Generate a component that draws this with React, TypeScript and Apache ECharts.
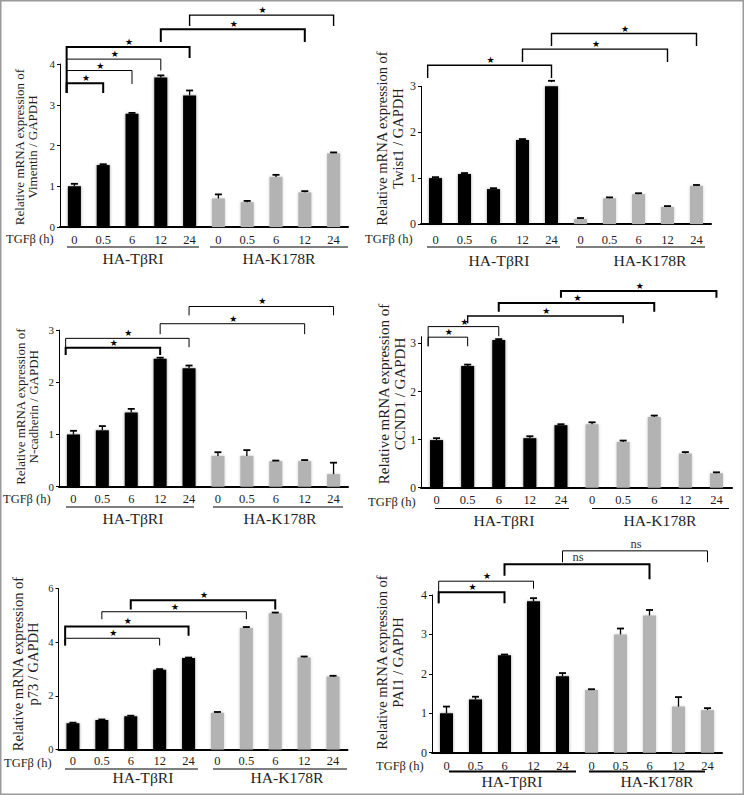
import React, { useEffect, useRef } from "react";
import * as echarts from "echarts";

// ---------- data ----------
const timeLabels = ["0", "0.5", "6", "12", "24", "0", "0.5", "6", "12", "24"];
const groupNames = ["HA-TβRI", "HA-K178R"];
const xTitle = "TGFβ (h)";
const yTitleTop = "Relative mRNA expression of";

// Vimentin
const vimTbri = [1.0, 1.52, 2.78, 3.67, 3.23];
const vimTbriSd = [0.06, 0.02, 0.02, 0.05, 0.12];
const vimK178r = [0.7, 0.61, 1.23, 0.85, 1.81];
const vimK178rSd = [0.1, 0.03, 0.05, 0.03, 0.02];
// Twist1
const twiTbri = [1.0, 1.09, 0.76, 1.83, 3.09];
const twiTbriSd = [0.02, 0.02, 0.02, 0.02, 0.03];
const twiK178r = [0.11, 0.56, 0.65, 0.37, 0.83];
const twiK178rSd = [0.02, 0.02, 0.02, 0.02, 0.02];
// N-cadherin
const ncaTbri = [1.0, 1.08, 1.42, 2.45, 2.27];
const ncaTbriSd = [0.07, 0.08, 0.07, 0.02, 0.05];
const ncaK178r = [0.59, 0.59, 0.49, 0.49, 0.24];
const ncaK178rSd = [0.07, 0.11, 0.01, 0.02, 0.22];
// CCND1
const ccnTbri = [0.99, 2.53, 3.07, 1.03, 1.3];
const ccnTbriSd = [0.04, 0.03, 0.02, 0.04, 0.02];
const ccnK178r = [1.32, 0.95, 1.47, 0.71, 0.3];
const ccnK178rSd = [0.04, 0.03, 0.03, 0.03, 0.02];
// p73
const p73Tbri = [0.98, 1.1, 1.24, 2.98, 3.41];
const p73TbriSd = [0.02, 0.02, 0.02, 0.02, 0.02];
const p73K178r = [1.37, 4.53, 5.08, 3.43, 2.72];
const p73K178rSd = [0.03, 0.04, 0.03, 0.04, 0.03];
// PAI1
const paiTbri = [1.0, 1.35, 2.47, 3.84, 1.94];
const paiTbriSd = [0.17, 0.07, 0.02, 0.08, 0.08];
const paiK178r = [1.59, 3.0, 3.48, 1.17, 1.08];
const paiK178rSd = [0.02, 0.15, 0.14, 0.24, 0.05];

// significance brackets: [fromIdx, toIdx, topLevel, leftFootLevel, rightFootLevel]
const vimBrackets = [
  [0, 1, 3.53, 3.29, 3.29], [0, 2, 3.84, 3.29, 3.51], [0, 3, 4.12, 3.29, 3.84],
  [0, 4, 4.42, 3.29, 4.15], [3, 8, 4.85, 4.54, 4.54], [4, 9, 5.2, 4.93, 4.93],
];
const vimMarks = ["★", "★", "★", "★", "★", "★"];
const twiBrackets = [[0, 4, 3.46, 3.18, 3.18], [3, 8, 3.81, 3.53, 3.53], [4, 9, 4.15, 3.88, 3.88]];
const twiMarks = ["★", "★", "★"];
const ncaBrackets = [
  [0, 3, 2.66, 2.52, 2.52], [0, 4, 2.84, 2.52, 2.67], [3, 8, 3.12, 2.92, 2.92], [4, 9, 3.45, 3.28, 3.28],
];
const ncaMarks = ["★", "★", "★", "★"];
const ccnBrackets = [
  [0, 1, 3.13, 2.94, 2.94], [0, 2, 3.35, 2.94, 3.15], [1, 6, 3.57, 3.42, 3.42],
  [2, 7, 3.84, 3.66, 3.66], [4, 9, 4.09, 3.95, 3.95],
];
const ccnMarks = ["★", "★", "★", "★", "★"];
const p73Brackets = [
  [0, 3, 4.15, 3.88, 3.88], [0, 4, 4.59, 3.88, 4.24], [1, 6, 5.14, 4.86, 4.86], [2, 7, 5.57, 5.22, 5.22],
];
const p73Marks = ["★", "★", "★", "★"];
const paiBrackets = [
  [0, 2, 4.07, 3.79, 3.79], [0, 3, 4.35, 3.79, 4.16], [2, 7, 4.78, 4.49, 4.4], [4, 9, 5.12, 4.83, 4.83],
];
const paiMarks = ["★", "★", "ns", "ns"];

// ---------- layout / style ----------
const SERIF = "Liberation Serif";
const TXT = "#1e1e1e";

type Panel = {
  gene: string;
  tbri: number[]; tbriSd: number[]; k: number[]; kSd: number[];
  brackets: number[][]; marks: string[]; bw: number[];
  max: number; interval: number;
  grid: { left: number; top: number; width: number; height: number };
  labelMargin: number; tickFont: number; titleFont: number;
  titleX: [number, number]; titleY: number;
  tgf: [number, number]; ulY: number; ul: [number, number, number, number]; ulW: number;
  grpY: number; grpX: [number, number];
};

const panels: Panel[] = [
  {
    gene: "Vimentin / GAPDH", tbri: vimTbri, tbriSd: vimTbriSd, k: vimK178r, kSd: vimK178rSd,
    brackets: vimBrackets, marks: vimMarks, bw: [2, 1, 1, 2, 2, 1.4], max: 4, interval: 1,
    grid: { left: 60, top: 64, width: 288, height: 163 }, labelMargin: 6, tickFont: 11, titleFont: 13,
    titleX: [19, 32.5], titleY: 147, tgf: [6, 239], ulY: 247, ul: [67, 199, 210, 348], ulW: 1.2,
    grpY: 259, grpX: [133, 279],
  },
  {
    gene: "Twist1 / GAPDH", tbri: twiTbri, tbriSd: twiTbriSd, k: twiK178r, kSd: twiK178rSd,
    brackets: twiBrackets, marks: twiMarks, bw: [1.4, 1.4, 1.4], max: 3, interval: 1,
    grid: { left: 421, top: 86.3, width: 290, height: 137.7 }, labelMargin: 9, tickFont: 12, titleFont: 14.5,
    titleX: [382, 398], titleY: 138.5, tgf: [365, 239], ulY: 247, ul: [427, 560, 576, 705], ulW: 1.2,
    grpY: 261, grpX: [499, 650],
  },
  {
    gene: "N-cadherin / GAPDH", tbri: ncaTbri, tbriSd: ncaTbriSd, k: ncaK178r, kSd: ncaK178rSd,
    brackets: ncaBrackets, marks: ncaMarks, bw: [2, 1, 1, 1], max: 3, interval: 1,
    grid: { left: 59, top: 330, width: 289, height: 156.7 }, labelMargin: 6, tickFont: 11, titleFont: 13,
    titleX: [20, 33], titleY: 406.7, tgf: [3, 499], ulY: 507, ul: [66, 194, 213, 343], ulW: 1.2,
    grpY: 519, grpX: [133, 280],
  },
  {
    gene: "CCND1 / GAPDH", tbri: ccnTbri, tbriSd: ccnTbriSd, k: ccnK178r, kSd: ccnK178rSd,
    brackets: ccnBrackets, marks: ccnMarks, bw: [1, 1, 1.4, 2, 2], max: 3.14, interval: 1,
    grid: { left: 421, top: 336.7, width: 311, height: 151 }, labelMargin: 6, tickFont: 11.5, titleFont: 15,
    titleX: [384, 399.5], titleY: 394, tgf: [368, 501.5], ulY: 508.5, ul: [435, 569, 592, 729], ulW: 1.2,
    grpY: 521, grpX: [504, 660],
  },
  {
    gene: "p73 / GAPDH", tbri: p73Tbri, tbriSd: p73TbriSd, k: p73K178r, kSd: p73K178rSd,
    brackets: p73Brackets, marks: p73Marks, bw: [1, 2, 1, 2], max: 6, interval: 2,
    grid: { left: 58.5, top: 588.7, width: 289, height: 160.8 }, labelMargin: 5, tickFont: 10.5, titleFont: 14.5,
    titleX: [18, 32.5], titleY: 664, tgf: [4, 762.5], ulY: 769, ul: [65, 198, 213, 347], ulW: 1.2,
    grpY: 778.5, grpX: [143, 287],
  },
  {
    gene: "PAI1 / GAPDH", tbri: paiTbri, tbriSd: paiTbriSd, k: paiK178r, kSd: paiK178rSd,
    brackets: paiBrackets, marks: paiMarks, bw: [2, 1, 2, 1], max: 4, interval: 1,
    grid: { left: 432, top: 595, width: 290, height: 157.7 }, labelMargin: 7, tickFont: 12, titleFont: 14.5,
    titleX: [382, 398], titleY: 662.5, tgf: [376, 766], ulY: 771.5, ul: [449, 576, 589, 705], ulW: 2,
    grpY: 782, grpX: [512, 657],
  },
];

function buildOption() {
  const grid: any[] = [];
  const xAxis: any[] = [];
  const yAxis: any[] = [];
  const series: any[] = [];
  const graphic: any[] = [];

  panels.forEach((p, i) => {
    grid.push({ ...p.grid, containLabel: false });
    xAxis.push({
      type: "category", gridIndex: i, data: timeLabels,
      axisLine: { lineStyle: { color: "#000", width: 2 } },
      axisTick: { show: false },
      axisLabel: { interval: 0, margin: p.labelMargin, fontFamily: SERIF, fontSize: 12.5, color: TXT },
      splitLine: { show: false },
    });
    yAxis.push({
      type: "value", gridIndex: i, min: 0, max: p.max, interval: p.interval,
      axisLine: { show: true, lineStyle: { color: "#000", width: 1 } },
      axisTick: { show: true, length: 3, lineStyle: { color: "#000" } },
      axisLabel: { margin: 5, fontFamily: SERIF, fontSize: p.tickFont, color: TXT, showMaxLabel: p.max % p.interval === 0 },
      splitLine: { show: false },
    });

    const vals = [...p.tbri, ...p.k];
    const sds = [...p.tbriSd, ...p.kSd];
    series.push({
      type: "bar", xAxisIndex: i, yAxisIndex: i, barWidth: 13,
      data: vals.map((v, j) => ({
        value: v,
        itemStyle: j < 5
          ? { color: "#050505", shadowBlur: 3, shadowColor: "rgba(0,0,0,0.4)" }
          : { color: "#b3b3b3", shadowBlur: 3, shadowColor: "rgba(140,140,140,0.45)" },
      })),
      silent: true,
    });
    series.push({
      type: "custom", xAxisIndex: i, yAxisIndex: i, silent: true, z: 5,
      data: vals.map((v, j) => [j, v, sds[j]]),
      renderItem: (_params: any, api: any) => {
        const x = api.value(0), v = api.value(1), e = api.value(2);
        const a = api.coord([x, v]);
        const b = api.coord([x, v + e]);
        return {
          type: "group",
          children: [
            { type: "line", shape: { x1: a[0], y1: a[1], x2: b[0], y2: b[1] }, style: { stroke: "#000", lineWidth: 1.3 } },
            { type: "line", shape: { x1: b[0] - 3.5, y1: b[1], x2: b[0] + 3.5, y2: b[1] }, style: { stroke: "#000", lineWidth: 1.8 } },
          ],
        };
      },
    });
    series.push({
      type: "custom", xAxisIndex: i, yAxisIndex: i, silent: true, z: 6, clip: false,
      data: p.brackets.map((b) => [b[0], b[2]]),
      renderItem: (params: any, api: any) => {
        const b = p.brackets[params.dataIndex];
        const band = api.size([1, 0])[0];
        const xa = api.coord([b[0], b[2]])[0] + (b[0] === 0 ? -0.27 * band : 0);
        const xb = api.coord([b[1], b[2]])[0];
        const yTop = api.coord([b[0], b[2]])[1];
        const yl = api.coord([b[0], b[3]])[1];
        const yr = api.coord([b[1], b[4]])[1];
        const mark = p.marks[params.dataIndex];
        const isStar = mark === "★";
        return {
          type: "group",
          children: [
            {
              type: "polyline",
              shape: { points: [[xa, yl], [xa, yTop], [xb, yTop], [xb, yr]] },
              style: { stroke: "#000", lineWidth: p.bw[params.dataIndex], fill: null },
            },
            {
              type: "text",
              x: (xa + xb) / 2 + 1, y: yTop - (isStar ? 5 : 7),
              style: {
                text: mark, align: "center", verticalAlign: "middle",
                fontFamily: isStar ? "DejaVu Sans" : SERIF, fontSize: isStar ? 9 : 12.5, fill: isStar ? "#000" : "#333",
              },
            },
          ],
        };
      },
    });

    // y-axis titles
    graphic.push({
      type: "text", x: p.titleX[0], y: p.titleY, rotation: Math.PI / 2, silent: true,
      style: { text: yTitleTop, fontFamily: SERIF, fontSize: p.titleFont, fill: TXT, align: "center", verticalAlign: "middle" },
    });
    graphic.push({
      type: "text", x: p.titleX[1], y: p.titleY, rotation: Math.PI / 2, silent: true,
      style: { text: p.gene, fontFamily: SERIF, fontSize: p.titleFont, fill: TXT, align: "center", verticalAlign: "middle" },
    });
    // TGFβ label
    graphic.push({
      type: "text", x: p.tgf[0], y: p.tgf[1], silent: true,
      style: { text: xTitle, fontFamily: SERIF, fontSize: 12.5, fill: TXT, align: "left", verticalAlign: "middle" },
    });
    // group underlines
    graphic.push({ type: "line", silent: true, shape: { x1: p.ul[0], y1: p.ulY, x2: p.ul[1], y2: p.ulY }, style: { stroke: "#000", lineWidth: p.ulW } });
    graphic.push({ type: "line", silent: true, shape: { x1: p.ul[2], y1: p.ulY, x2: p.ul[3], y2: p.ulY }, style: { stroke: "#000", lineWidth: p.ulW } });
    // group labels
    groupNames.forEach((g, k) => {
      graphic.push({
        type: "text", x: p.grpX[k], y: p.grpY, silent: true, scaleX: 1.12,
        style: { text: g, fontFamily: SERIF, fontSize: 14, fill: TXT, align: "center", verticalAlign: "middle" },
      });
    });
  });

  graphic.push({
    type: "rect", silent: true, z: 100,
    shape: { x: 0.75, y: 0.75, width: 742.5, height: 793.5 },
    style: { fill: "none", stroke: "#9a9a9a", lineWidth: 1.5 },
  });

  return {
    animation: false,
    backgroundColor: "#fff",
    textStyle: { fontFamily: SERIF },
    grid, xAxis, yAxis, series, graphic,
  };
}

export default function App() {
  const ref = useRef<HTMLDivElement>(null);
  useEffect(() => {
    if (!ref.current) return;
    const chart = echarts.init(ref.current, undefined, { renderer: "svg" });
    chart.setOption(buildOption() as any);
    return () => chart.dispose();
  }, []);
  return (
    <div
      ref={ref}
      style={{ position: "absolute", left: 0, top: 0, width: 744, height: 795, background: "#fff" }}
    />
  );
}
